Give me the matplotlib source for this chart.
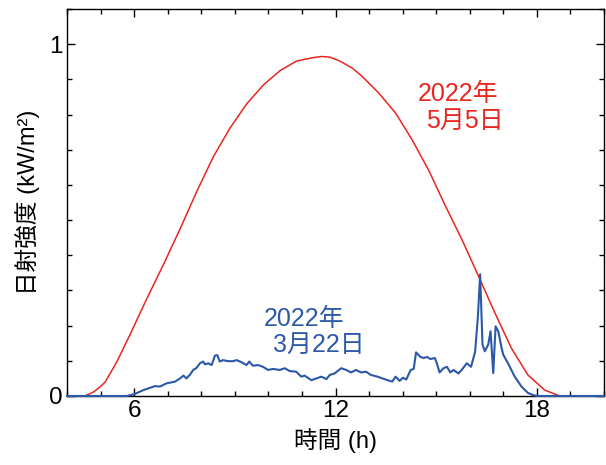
import matplotlib
matplotlib.use("Agg")
import matplotlib.pyplot as plt
from matplotlib.ticker import MultipleLocator

plt.rcParams['font.family'] = ['Liberation Sans', 'Noto Sans CJK JP', 'DejaVu Sans']

# 2022年5月5日 (red)
may_hours = [4.0, 4.54, 4.8, 5.0, 5.14, 5.49, 5.88, 6.37, 6.87, 7.37, 7.86, 8.36, 8.86,
             9.35, 9.85, 10.35, 10.84, 11.34, 11.6, 11.84, 12.13, 12.5, 12.8, 13.3,
             13.8, 14.29, 14.78, 15.27, 15.76, 16.26, 16.75, 17.24, 17.73, 18.23,
             18.6, 18.7, 20.0]
may_vals = [0, 0, 0.012, 0.027, 0.04, 0.098, 0.175, 0.275, 0.373, 0.475, 0.58, 0.68, 0.762,
            0.83, 0.884, 0.925, 0.952, 0.962, 0.965, 0.963, 0.952, 0.932, 0.908, 0.86,
            0.803, 0.727, 0.641, 0.541, 0.446, 0.341, 0.236, 0.136, 0.06, 0.017,
            0.003, 0, 0]

# 2022年3月22日 (blue)
mar_hours = [4.0, 5.78, 6.0, 6.28, 6.62, 6.77, 6.97, 7.22, 7.37, 7.47, 7.56, 7.66,
             7.76, 7.86, 7.96, 8.06, 8.11, 8.21, 8.31, 8.41, 8.48, 8.55, 8.65, 8.8,
             8.95, 9.05, 9.2, 9.35, 9.43, 9.54, 9.69, 9.84, 9.99, 10.14, 10.34,
             10.49, 10.63, 10.83, 10.98, 11.08, 11.28, 11.43, 11.58, 11.73, 11.83,
             11.97, 12.17, 12.32, 12.46, 12.61, 12.76, 12.91, 13.05, 13.25, 13.4,
             13.55, 13.69, 13.79, 13.91, 14.01, 14.11, 14.24, 14.33, 14.4, 14.53,
             14.63, 14.73, 14.83, 14.96, 15.02, 15.1, 15.22, 15.32, 15.42, 15.52,
             15.66, 15.76, 15.91, 16.04, 16.16, 16.24, 16.31, 16.38, 16.45, 16.55,
             16.62, 16.7, 16.77, 16.85, 16.95, 17.0, 17.14, 17.34, 17.54, 17.73,
             17.88, 18.0, 20.0]
mar_vals = [0, 0, 0.005, 0.017, 0.028, 0.027, 0.036, 0.041, 0.05, 0.058, 0.05, 0.06,
            0.074, 0.08, 0.093, 0.098, 0.09, 0.093, 0.088, 0.115, 0.116, 0.098, 0.102, 0.099,
            0.099, 0.102, 0.096, 0.088, 0.098, 0.086, 0.088, 0.083, 0.074, 0.077, 0.074,
            0.079, 0.071, 0.069, 0.055, 0.058, 0.045, 0.05, 0.055, 0.048, 0.06,
            0.064, 0.079, 0.074, 0.067, 0.074, 0.067, 0.069, 0.06, 0.055, 0.05,
            0.045, 0.041, 0.055, 0.043, 0.052, 0.047, 0.074, 0.077, 0.124, 0.111,
            0.108, 0.111, 0.105, 0.108, 0.093, 0.067, 0.079, 0.083, 0.067, 0.074,
            0.064, 0.074, 0.093, 0.083, 0.126, 0.222, 0.346, 0.146, 0.127, 0.146,
            0.184, 0.065, 0.198, 0.184, 0.136, 0.117, 0.093, 0.055, 0.027, 0.009,
            0.003, 0, 0]

x_ticks = [6, 12, 18]
y_ticks = [0, 1]

RED = '#e8261f'
BLUE = '#2b58a8'

fig = plt.figure(figsize=(6.06, 4.65), dpi=100)
ax = fig.add_axes([67/606, 1 - 396/465, 537/606, 387/465])

ax.plot(may_hours, may_vals, color=RED, lw=1.1, zorder=3, clip_on=False)
ax.plot(mar_hours, mar_vals, color=BLUE, lw=1.5, zorder=4, clip_on=False)

ax.set_xlim(4, 20)
ax.set_ylim(0, 1.1)
ax.set_xticks(x_ticks)
ax.set_yticks(y_ticks)
ax.set_yticklabels(['0', '1'])
ax.xaxis.set_minor_locator(MultipleLocator(1))
ax.yaxis.set_minor_locator(MultipleLocator(0.1))
ax.tick_params(which='both', direction='in', top=True, right=True, width=1.0,
               labelsize=17.5, pad=3)
ax.tick_params(which='major', length=6)
ax.tick_params(which='minor', length=3.5)
for s in ax.spines.values():
    s.set_linewidth(1.0)

ax.set_xlabel('時間 (h)', fontsize=17)
ax.set_ylabel('日射強度 (kW/m²)', fontsize=17)
ax.yaxis.set_label_coords(-0.05, 0.5)

ax.text(14.46, 0.838, '2022年', color=RED, fontsize=18, ha='left', va='baseline')
ax.text(14.70, 0.761, '5月5日', color=RED, fontsize=18, ha='left', va='baseline')
ax.text(9.87, 0.199, '2022年', color=BLUE, fontsize=18, ha='left', va='baseline')
ax.text(10.14, 0.125, '3月22日', color=BLUE, fontsize=18, ha='left', va='baseline')

fig.savefig('out.png', dpi=100)
